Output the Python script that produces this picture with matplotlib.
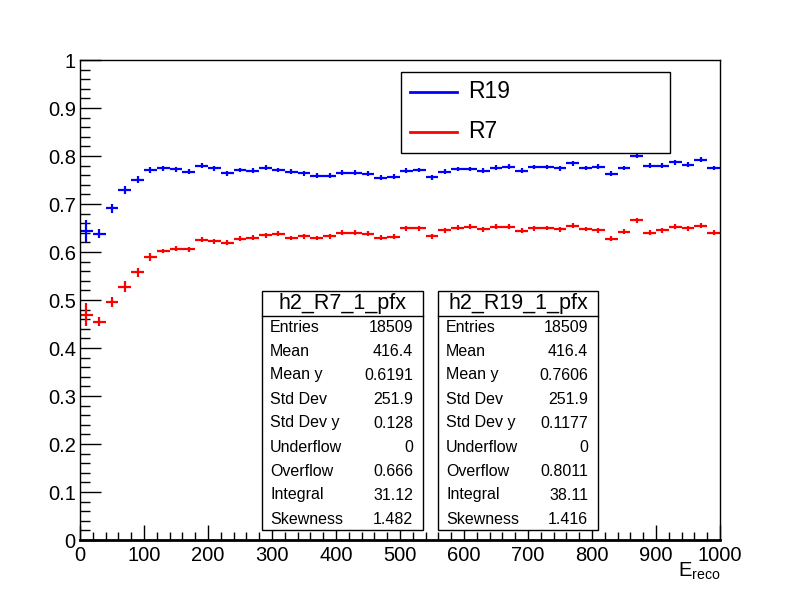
import numpy as np
import matplotlib
matplotlib.use("Agg")
import matplotlib.pyplot as plt
from matplotlib.patches import Rectangle
from matplotlib.lines import Line2D

plt.rcParams["font.family"] = ["Liberation Sans", "DejaVu Sans"]

# bins of width 20 from 0 to 1000
bin_lo = np.arange(0, 1000, 20)
bin_half = 10

r19 = [0.644, 0.638, 0.691, 0.729, 0.751, 0.771, 0.774, 0.772, 0.767, 0.780,
       0.774, 0.764, 0.771, 0.769, 0.776, 0.771, 0.767, 0.764, 0.759, 0.759,
       0.765, 0.765, 0.763, 0.755, 0.757, 0.769, 0.771, 0.756, 0.767, 0.773,
       0.773, 0.769, 0.776, 0.778, 0.769, 0.777, 0.777, 0.774, 0.785, 0.775,
       0.778, 0.763, 0.775, 0.801, 0.780, 0.780, 0.787, 0.782, 0.792, 0.775]
r19_err = [0.023, 0.009, 0.010, 0.009, 0.007, 0.006] + [0.005] * 44

r7 = [0.469, 0.455, 0.496, 0.528, 0.558, 0.590, 0.602, 0.607, 0.606, 0.626,
      0.622, 0.619, 0.628, 0.630, 0.635, 0.638, 0.629, 0.633, 0.629, 0.633,
      0.640, 0.640, 0.638, 0.630, 0.632, 0.649, 0.649, 0.633, 0.645, 0.651,
      0.653, 0.647, 0.653, 0.653, 0.644, 0.649, 0.650, 0.647, 0.655, 0.648,
      0.645, 0.628, 0.642, 0.666, 0.640, 0.645, 0.653, 0.649, 0.655, 0.640]
r7_err = [0.024, 0.010, 0.010, 0.011, 0.0095, 0.008] + [0.005] * 44

stat_labels = ["Entries", "Mean", "Mean y", "Std Dev", "Std Dev y",
               "Underflow", "Overflow", "Integral", "Skewness"]
r7_stats = ["18509", "416.4", "0.6191", "251.9", "0.128", "0", "0.666", "31.12", "1.482"]
r19_stats = ["18509", "416.4", "0.7606", "251.9", "0.1177", "0", "0.8011", "38.11", "1.416"]

W, H = 800, 600
fig = plt.figure(figsize=(8, 6), dpi=100)
ax = fig.add_axes([80 / W, 1 - 540 / H, 640 / W, 480 / H])

x = bin_lo + bin_half
ax.errorbar(x, r19, xerr=bin_half, yerr=r19_err, fmt="none", ecolor="#0000ff",
            elinewidth=1.6, capsize=0)
ax.errorbar(x, r7, xerr=bin_half, yerr=r7_err, fmt="none", ecolor="#ff0000",
            elinewidth=1.6, capsize=0)

ax.set_xlim(0, 1000)
ax.set_ylim(0, 1)
ax.set_xticks(np.arange(0, 1001, 100))
ax.set_xticks(np.arange(0, 1001, 20), minor=True)
ax.set_yticks(np.round(np.arange(0, 1.01, 0.1), 1))
ax.set_yticks(np.arange(0, 1.001, 0.02), minor=True)
ax.set_yticklabels(["0", "0.1", "0.2", "0.3", "0.4", "0.5", "0.6", "0.7", "0.8", "0.9", "1"])
ax.tick_params(which="both", direction="in", top=False, right=False, labelsize=14.5, width=1)
ax.tick_params(axis="x", which="major", length=11, pad=4)
ax.tick_params(axis="x", which="minor", length=6)
ax.tick_params(axis="y", which="major", length=15, pad=3)
ax.tick_params(axis="y", which="minor", length=7)
for s in ax.spines.values():
    s.set_linewidth(1)
ax.spines["bottom"].set_linewidth(2)

fig.text(720 / W, 1 - 577 / H, r"$\mathregular{E_{reco}}$", ha="right", va="baseline",
         fontsize=14.5)


def fx(px):
    return px / W


def fy(py):
    return 1 - py / H


# legend box
fig.add_artist(Rectangle((fx(401), fy(153)), (670 - 401) / W, (153 - 72) / H,
                         transform=fig.transFigure, fill=True, facecolor="white",
                         edgecolor="black", linewidth=1))
for yy, col, lab in [(92, "#0000ff", "R19"), (132, "#ff0000", "R7")]:
    fig.add_artist(Line2D([fx(410), fx(457)], [fy(yy), fy(yy)], color=col,
                          linewidth=2, transform=fig.transFigure))
    fig.text(fx(468), fy(yy), lab, fontsize=16.5, va="center", ha="left")

# stat boxes
row_y = [327, 351, 375, 399, 423, 447, 471, 495, 520]
for left, right, title, vals in [(262, 423, "h2_R7_1_pfx", r7_stats),
                                 (438, 598, "h2_R19_1_pfx", r19_stats)]:
    fig.add_artist(Rectangle((fx(left), fy(530)), (right - left) / W, (530 - 291) / H,
                             transform=fig.transFigure, facecolor="white",
                             edgecolor="black", linewidth=1))
    fig.add_artist(Line2D([fx(left), fx(right)], [fy(316), fy(316)], color="black",
                          linewidth=1, transform=fig.transFigure))
    fig.text(fx((left + right) / 2), fy(304), title, fontsize=15.5, ha="center", va="center")
    for lab, val, yy in zip(stat_labels, vals, row_y):
        fig.text(fx(left + 8), fy(yy), lab, fontsize=11.5, ha="left", va="center")
        fig.text(fx(right - 10), fy(yy), val, fontsize=11.5, ha="right", va="center")

fig.savefig("out.png", dpi=100, facecolor="white")
